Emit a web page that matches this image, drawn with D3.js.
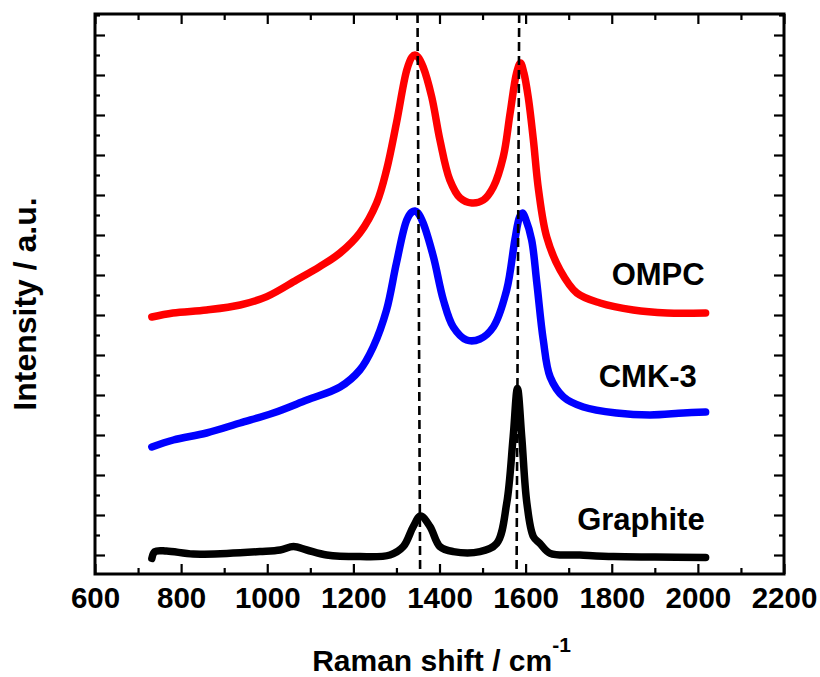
<!DOCTYPE html>
<html>
<head>
<meta charset="utf-8">
<script src="https://cdn.jsdelivr.net/npm/d3@7/dist/d3.min.js"></script>
<style>
  body { margin: 0; background: #fff; }
  svg { display: block; }
  text { font-family: "Liberation Sans", Arial, sans-serif; font-weight: bold; fill: #000; }
</style>
</head>
<body>
<svg id="chart" width="820" height="677"></svg>
<script>
// ---- data (Raman shift in cm^-1, intensity in offset arbitrary units) ----
const ompcShift = [732, 781, 859, 937, 999, 1068, 1122, 1169, 1215, 1254, 1277, 1300, 1324, 1336, 1343, 1350, 1362, 1382, 1401, 1424, 1448, 1475, 1502, 1525, 1548, 1564, 1579, 1588, 1596, 1606, 1618, 1630, 1649, 1680, 1719, 1773, 1850, 1928, 2018];
const ompcInt   = [11.9, 12.1, 12.25, 12.5, 12.92, 13.75, 14.42, 15.1, 16.1, 17.6, 19.25, 21.6, 24.25, 24.9, 25.0, 24.9, 24.4, 22.9, 20.75, 18.75, 17.85, 17.6, 17.75, 18.4, 19.9, 22.1, 24.1, 24.6, 24.1, 22.9, 20.75, 18.25, 15.9, 14.25, 13.1, 12.6, 12.25, 12.1, 12.1];

const cmkShift = [732, 782, 859, 937, 1014, 1092, 1169, 1215, 1246, 1277, 1300, 1324, 1336, 1343, 1350, 1362, 1386, 1409, 1432, 1463, 1494, 1525, 1556, 1575, 1586, 1593, 1600, 1614, 1626, 1641, 1657, 1688, 1734, 1811, 1889, 1966, 2018];
const cmkInt   = [5.4, 5.75, 6.1, 6.6, 7.1, 7.75, 8.4, 9.25, 10.4, 12.25, 14.6, 16.75, 17.15, 17.2, 17.1, 16.6, 14.9, 12.75, 11.4, 10.75, 10.8, 11.4, 13.25, 15.75, 16.9, 17.1, 16.8, 15.75, 13.6, 10.75, 8.9, 7.9, 7.4, 7.1, 7.0, 7.1, 7.15];

const graphiteShift = [732, 739, 766, 828, 906, 983, 1030, 1061, 1092, 1138, 1215, 1285, 1316, 1339, 1356, 1378, 1401, 1432, 1494, 1533, 1556, 1571, 1581, 1591, 1603, 1618, 1633, 1657, 1726, 1804, 1900, 2018];
const graphiteInt   = [-0.17, 0.17, 0.2, 0.05, 0.08, 0.17, 0.25, 0.42, 0.25, 0.0, -0.08, 0.0, 0.42, 1.42, 1.95, 1.42, 0.42, 0.17, 0.17, 0.58, 2.58, 5.9, 8.33, 5.9, 2.58, 0.92, 0.58, 0.08, 0.0, -0.08, -0.1, -0.12];

const seriesNames  = ["OMPC", "CMK-3", "Graphite"];
const seriesColors = ["#ff0000", "#0000ff", "#000000"];
const labelPos     = [[2018, 13.5], [2000, 8.4], [2018, 1.25]]; // anchor (x in cm^-1, y in a.u.) for right-aligned labels

const peakTop    = [1349, 1585];   // dashed guide at top of plot
const peakBottom = [1355, 1579];   // dashed guide at bottom of plot

const xMajor = [600, 800, 1000, 1200, 1400, 1600, 1800, 2000, 2200];
const xMinor = [700, 900, 1100, 1300, 1500, 1700, 1900, 2100];
const yMajor = [0, 2, 4, 6, 8, 10, 12, 14, 16, 18, 20, 22, 24, 26];
const yMinor = [1, 3, 5, 7, 9, 11, 13, 15, 17, 19, 21, 23, 25, 27];

// ---- layout ----
const svg = d3.select("#chart");
const mLeft = 95, mRight = 784, mTop = 14, mBottom = 574;
const x = d3.scaleLinear().domain([600, 2200]).range([mLeft, mRight]);
const y = d3.scaleLinear().domain([-0.95, 27.05]).range([mBottom, mTop]);

// ---- axes: ticks on all four sides, pointing inward ----
function styleAxis(g) {
  g.select(".domain").remove();
  g.selectAll(".tick line").attr("stroke", "#000").attr("stroke-width", 2.2);
}
svg.append("g").attr("transform", `translate(0,${mBottom})`)
  .call(d3.axisBottom(x).tickValues(xMajor).tickSizeInner(-10).tickSizeOuter(0).tickPadding(13).tickFormat(d3.format("d")))
  .call(styleAxis)
  .call(g => g.selectAll("text").style("font-size", "29.5px").style("font-family", "'Liberation Sans', Arial, sans-serif").style("font-weight", "bold"));
svg.append("g").attr("transform", `translate(0,${mBottom})`)
  .call(d3.axisBottom(x).tickValues(xMinor).tickSizeInner(-6).tickSizeOuter(0).tickFormat(""))
  .call(styleAxis);
svg.append("g").attr("transform", `translate(0,${mTop})`)
  .call(d3.axisTop(x).tickValues(xMajor).tickSizeInner(-10).tickSizeOuter(0).tickFormat(""))
  .call(styleAxis);
svg.append("g").attr("transform", `translate(0,${mTop})`)
  .call(d3.axisTop(x).tickValues(xMinor).tickSizeInner(-6).tickSizeOuter(0).tickFormat(""))
  .call(styleAxis);
svg.append("g").attr("transform", `translate(${mLeft},0)`)
  .call(d3.axisLeft(y).tickValues(yMajor).tickSizeInner(-10).tickSizeOuter(0).tickFormat(""))
  .call(styleAxis);
svg.append("g").attr("transform", `translate(${mLeft},0)`)
  .call(d3.axisLeft(y).tickValues(yMinor).tickSizeInner(-5).tickSizeOuter(0).tickFormat(""))
  .call(styleAxis);
svg.append("g").attr("transform", `translate(${mRight},0)`)
  .call(d3.axisRight(y).tickValues(yMajor).tickSizeInner(-10).tickSizeOuter(0).tickFormat(""))
  .call(styleAxis);
svg.append("g").attr("transform", `translate(${mRight},0)`)
  .call(d3.axisRight(y).tickValues(yMinor).tickSizeInner(-5).tickSizeOuter(0).tickFormat(""))
  .call(styleAxis);

// ---- curves ----
const series = [
  { xs: ompcShift, ys: ompcInt },
  { xs: cmkShift, ys: cmkInt },
  { xs: graphiteShift, ys: graphiteInt }
];
const line = d3.line().x(d => x(d[0])).y(d => y(d[1])).curve(d3.curveCatmullRom.alpha(0.5));
series.forEach((s, i) => {
  const pts = s.xs.map((v, j) => [v, s.ys[j]]);
  svg.append("path")
    .attr("d", line(pts))
    .attr("fill", "none")
    .attr("stroke", seriesColors[i])
    .attr("stroke-width", 7.5)
    .attr("stroke-linejoin", "round")
    .attr("stroke-linecap", "round");
});

// ---- dashed peak guides ----
const yDomain = y.domain();
peakTop.forEach((p, i) => {
  svg.append("line")
    .attr("x1", x(p)).attr("y1", y(yDomain[1]))
    .attr("x2", x(peakBottom[i])).attr("y2", y(yDomain[0]))
    .attr("stroke", "#000").attr("stroke-width", 2.6)
    .attr("stroke-dasharray", "9,5");
});

// ---- series labels ----
seriesNames.forEach((n, i) => {
  svg.append("text")
    .attr("x", x(labelPos[i][0]) - 1)
    .attr("y", y(labelPos[i][1]))
    .attr("text-anchor", "end")
    .style("font-size", "31px")
    .text(n);
});

// ---- frame ----
svg.append("rect")
  .attr("x", mLeft).attr("y", mTop)
  .attr("width", mRight - mLeft).attr("height", mBottom - mTop)
  .attr("fill", "none").attr("stroke", "#000").attr("stroke-width", 3);

// ---- axis titles ----
const xt = svg.append("text")
  .attr("x", (mLeft + mRight) / 2 + 2)
  .attr("y", 671)
  .attr("text-anchor", "middle")
  .style("font-size", "30px");
xt.append("tspan").text("Raman shift / cm");
xt.append("tspan").attr("dy", -19).style("font-size", "21px").text("-1");

svg.append("text")
  .attr("transform", `translate(36,304) rotate(-90)`)
  .attr("text-anchor", "middle")
  .style("font-size", "32px")
  .text("Intensity / a.u.");
</script>
</body>
</html>
